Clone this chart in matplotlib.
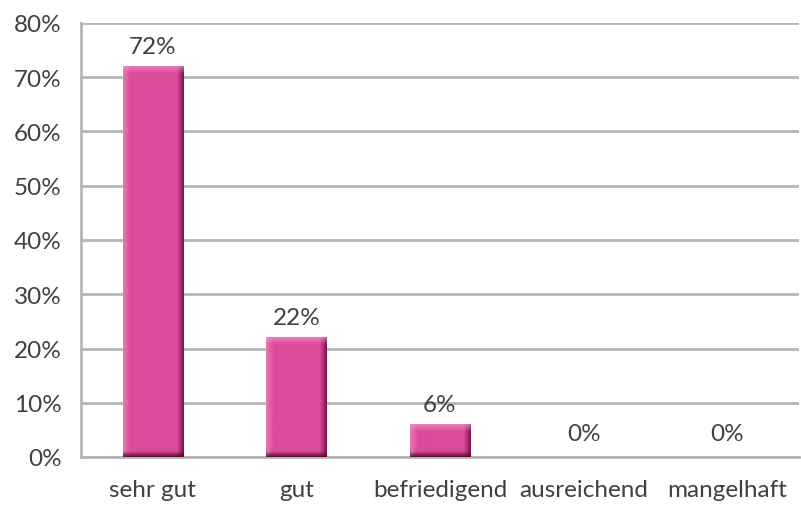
import numpy as np
import matplotlib
matplotlib.use("Agg")
import matplotlib.pyplot as plt
from matplotlib.colors import to_rgb

categories = ["sehr gut", "gut", "befriedigend", "ausreichend", "mangelhaft"]
values = [72, 22, 6, 0, 0]
value_labels = ["72%", "22%", "6%", "0%", "0%"]
yticks = [0, 10, 20, 30, 40, 50, 60, 70, 80]
ytick_labels = ["0%", "10%", "20%", "30%", "40%", "50%", "60%", "70%", "80%"]

plt.rcParams['font.family'] = ['Lato', 'DejaVu Sans']
TEXT = "#404040"
GRID = "#b5b5b8"
BASE = "#dc4b9a"
FS = 17.5

W, H = 801, 506
fig = plt.figure(figsize=(W / 100, H / 100), dpi=100)
ax = fig.add_axes([81 / W, 1 - 458 / H, (799 - 81) / W, (458 - 24) / H])

x = np.arange(len(categories))
ax.set_xlim(-0.5, len(categories) - 0.5)
ax.set_ylim(0, 80)
ax.set_yticks(yticks)
ax.set_yticklabels(ytick_labels)
ax.set_xticks(x)
ax.set_xticklabels(categories)
ax.yaxis.grid(True, color=GRID, lw=2)
ax.set_axisbelow(True)
for s in ["top", "right"]:
    ax.spines[s].set_visible(False)
for s in ["left", "bottom"]:
    ax.spines[s].set_color(GRID)
    ax.spines[s].set_linewidth(2)
ax.tick_params(length=0, labelsize=FS, colors=TEXT)
ax.tick_params(axis="x", pad=16)
ax.tick_params(axis="y", pad=14)

bars = ax.bar(x, values, width=0.42, color=BASE, zorder=2)

# bevel shading overlay for each bar
fig.canvas.draw()
base = np.array(to_rgb(BASE))
light = np.array(to_rgb("#ee9cc8"))
dark_r = np.array(to_rgb("#6e0c40"))
dark_b = np.array(to_rgb("#4e0028"))
for b in bars:
    h = b.get_height()
    if h <= 0:
        continue
    x0, w = b.get_x(), b.get_width()
    (px0, py0), (px1, py1) = ax.transData.transform([(x0, 0), (x0 + w, h)])
    wp, hp = int(round(px1 - px0)), int(round(py1 - py0))
    img = np.tile(base, (hp, wp, 1))
    lw_ = 7
    for c in range(min(lw_, wp)):
        t = (1 - c / lw_) * 0.55
        img[:, c] = img[:, c] * (1 - t) + light * t
    rw = 7
    for c in range(min(rw, wp)):
        t = (1 - c / rw) ** 1.2 * 0.85
        cc = wp - 1 - c
        img[:, cc] = img[:, cc] * (1 - t) + dark_r * t
    th = 7
    for r in range(min(th, hp)):
        t = (1 - r / th) * 0.6
        img[r, :] = img[r, :] * (1 - t) + light * t
    bh = 6
    for r in range(min(bh, hp)):
        t = (1 - r / bh) ** 1.2 * 0.85
        rr = hp - 1 - r
        img[rr, :] = img[rr, :] * (1 - t) + dark_b * t
    ax.imshow(img, extent=(x0, x0 + w, 0, h), aspect="auto", zorder=3,
              interpolation="bilinear")

ax.set_xlim(-0.5, len(categories) - 0.5)
ax.set_ylim(0, 80)

for xi, v, lab in zip(x, values, value_labels):
    ax.annotate(lab, (xi, v), xytext=(0, 7 if v > 0 else 9), textcoords="offset points",
                ha="center", va="bottom", fontsize=FS, color=TEXT, zorder=4)

fig.savefig("out.png", dpi=100)
